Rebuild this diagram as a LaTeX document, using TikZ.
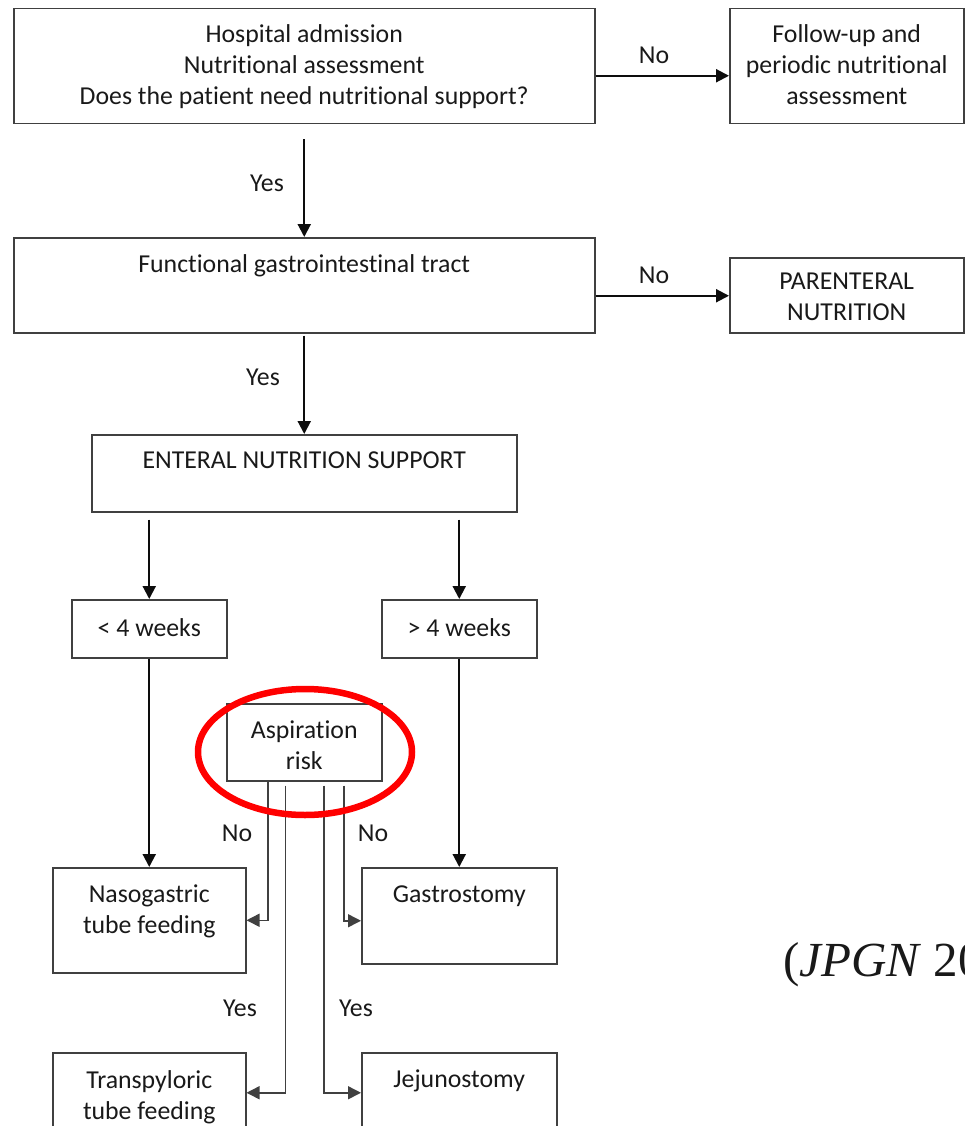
\documentclass[tikz,border=0pt]{standalone}
\usepackage{fontspec}
\setmainfont[Ligatures={NoCommon}]{Carlito}
\newfontfamily\citefont{Liberation Serif}
\usetikzlibrary{arrows.meta,shapes.geometric}
\newcommand{\fs}{\fontsize{25.8}{31}\selectfont}
\tikzset{
  box/.style={draw=black!75, line width=1.5pt, anchor=north west, inner sep=0pt},
  txt/.style={font=\fs, align=center, inner sep=0pt, text=black!90},
  arr/.style={draw=black!95, line width=2.1pt, -{Triangle[length=13pt,width=13pt]}},
  plain/.style={draw=black!75, line width=1.5pt, -{Triangle[length=13pt,width=13pt]}},
  lbl/.style={font=\fs, inner sep=0pt, text=black!90},
}
\begin{document}
\begin{tikzpicture}[x=1pt,y=-1pt]
\useasboundingbox (0,0) rectangle (965,1126);
\clip (0,0) rectangle (965,1126);
% boxes
\node[box, minimum width=581pt, minimum height=115pt,
  label={[txt]center:Hospital admission\\Nutritional assessment\\Does the patient need nutritional support?}] (b1) at (13,8) {};
\node[box, minimum width=234pt, minimum height=115pt,
  label={[txt, yshift=2pt]center:Follow-up and\\periodic nutritional\\assessment}] (b2) at (729,8) {};
\node[box, minimum width=581pt, minimum height=95pt,
  label={[txt, anchor=north, yshift=-17pt]north:Functional gastrointestinal tract}] (b3) at (13,237) {};
\node[box, minimum width=234pt, minimum height=75pt,
  label={[txt, yshift=-2pt]center:PARENTERAL\\NUTRITION}] (b4) at (729,257) {};
\node[box, minimum width=425pt, minimum height=77pt,
  label={[txt, anchor=north, yshift=-18pt]north:ENTERAL NUTRITION SUPPORT}] (b5) at (91,434) {};
\node[box, minimum width=155pt, minimum height=58pt,
  label={[txt, yshift=1pt]center:{< 4 weeks}}] (w1) at (71,599) {};
\node[box, minimum width=155pt, minimum height=58pt,
  label={[txt, yshift=1pt]center:{> 4 weeks}}] (w2) at (381,599) {};
\node[box, minimum width=155pt, minimum height=77pt,
  label={[txt, yshift=-3pt]center:Aspiration\\risk}] (asp) at (226,703) {};
\node[box, minimum width=193pt, minimum height=105pt,
  label={[txt, anchor=north, yshift=-18pt]north:Nasogastric\\tube feeding}] (nas) at (52,867) {};
\node[box, minimum width=195pt, minimum height=96pt,
  label={[txt, anchor=north, yshift=-19pt]north:Gastrostomy}] (gas) at (361,867) {};
\node[box, minimum width=193pt, minimum height=80pt,
  label={[txt, anchor=north, yshift=-18pt]north:Transpyloric\\tube feeding}] (tp) at (52,1052) {};
\node[box, minimum width=195pt, minimum height=80pt,
  label={[txt, anchor=north, yshift=-18pt]north:Jejunostomy}] (jej) at (361,1052) {};
% connectors
\draw[arr] ([yshift=-9.5pt]b1.east) -- ([yshift=-9.5pt]b2.west);
\draw[arr] ([yshift=-15pt]b1.south) -- (b3.north);
\draw[arr] ([yshift=-10.5pt]b3.east) -- ([yshift=-0.5pt]b4.west);
\draw[arr] ([yshift=-2pt]b3.south) -- (b5.north);
\draw[arr] ([yshift=-7pt]b5.south -| w1.north) -- (w1.north);
\draw[arr] ([yshift=-7pt]b5.south -| w2.north) -- (w2.north);
\draw[arr] (w1.south) -- (nas.north);
\draw[arr] (w2.south) -- (gas.north);
\draw[plain] ([xshift=-36.5pt]asp.south) |- (nas.east);
\draw[plain] ([xshift=-19pt,yshift=-4pt]asp.south) |- (tp.east);
\draw[plain] ([xshift=19.5pt,yshift=-4pt]asp.south) |- (jej.west);
\draw[plain] ([xshift=39.5pt,yshift=-4pt]asp.south) |- ([yshift=-5pt]gas.west);
% labels
\node[lbl] (n1) at (654,55) {No};
\node[lbl] (n2) at (654,275) {No};
\node[lbl] (y1) at (267,183) {Yes};
\node[lbl] (y2) at (263,377) {Yes};
\node[lbl] (n3) at (237,833) {No};
\node[lbl] (n4) at (373,833) {No};
\node[lbl] (y3) at (240,1008) {Yes};
\node[lbl] (y4) at (356,1008) {Yes};
% highlight
\node[draw=red, line width=6.5pt, ellipse, minimum width=214pt, minimum height=126pt] (ell) at (305,752) {};
% citation (cropped at the picture's edge, as in the reference)
\node[anchor=base west, inner sep=0pt, font=\citefont\fontsize{49}{55}\selectfont, text=black!90] (cite) at (783,976) {(\textit{JPGN} 20};
\end{tikzpicture}
\end{document}
